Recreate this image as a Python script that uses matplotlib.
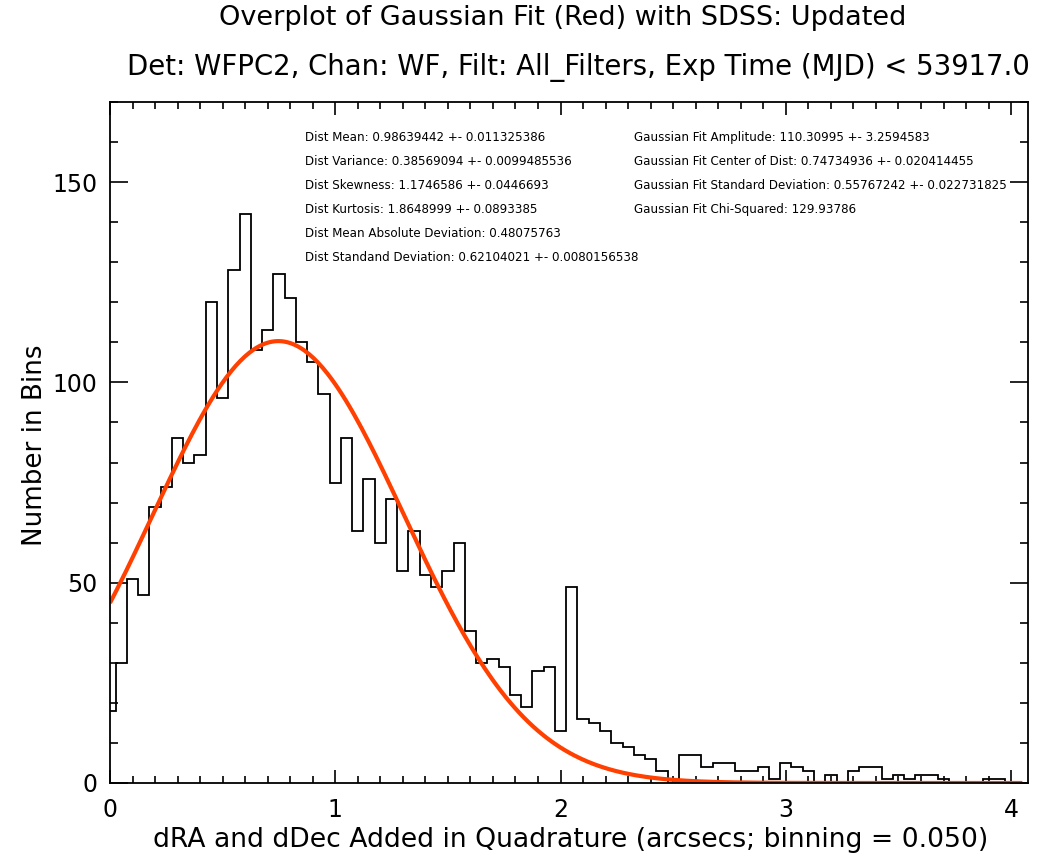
import numpy as np
import matplotlib
matplotlib.use("Agg")
import matplotlib.pyplot as plt
from matplotlib.ticker import MultipleLocator

# histogram of separations, bin centres every 0.05 arcsec starting at 0
bin_width = 0.05
counts = [18, 30, 51, 47, 69, 74, 86, 80, 82, 120,
          96, 128, 142, 108, 113, 127, 121, 110, 105, 97,
          75, 86, 63, 76, 60, 71, 53, 63, 52, 49,
          53, 60, 38, 30, 31, 29, 22, 19, 28, 29,
          13, 49, 16, 15, 13, 10, 9, 7, 6, 3,
          0, 7, 7, 4, 5, 5, 3, 3, 4, 1,
          5, 4, 3, 0, 2, 0, 3, 4, 4, 1,
          2, 1, 2, 2, 1, 0, 0, 0, 1, 1,
          0, 0]

# gaussian fit parameters (as printed on the plot)
fit_amp = 110.30995
fit_center = 0.74734936
fit_sigma = 0.55767242

left_stats = [
    "Dist Mean: 0.98639442 +- 0.011325386",
    "Dist Variance: 0.38569094 +- 0.0099485536",
    "Dist Skewness: 1.1746586 +- 0.0446693",
    "Dist Kurtosis: 1.8648999 +- 0.0893385",
    "Dist Mean Absolute Deviation: 0.48075763",
    "Dist Standand Deviation: 0.62104021 +- 0.0080156538",
]
right_stats = [
    "Gaussian Fit Amplitude: 110.30995 +- 3.2594583",
    "Gaussian Fit Center of Dist: 0.74734936 +- 0.020414455",
    "Gaussian Fit Standard Deviation: 0.55767242 +- 0.022731825",
    "Gaussian Fit Chi-Squared: 129.93786",
]

title = "Overplot of Gaussian Fit (Red) with SDSS: Updated"
subtitle = "Det: WFPC2, Chan: WF, Filt: All_Filters, Exp Time (MJD) < 53917.0"
xlabel = "dRA and dDec Added in Quadrature (arcsecs; binning = 0.050)"
ylabel = "Number in Bins"

plt.rcParams['font.family'] = ['DejaVu Sans']

fig = plt.figure(figsize=(10.37, 8.65), dpi=100)
ax = fig.add_axes([110 / 1037, 82 / 865, 918 / 1037, 681 / 865])

centers = np.arange(len(counts)) * bin_width
edges = np.append(centers - bin_width / 2, centers[-1] + bin_width / 2)
ax.stairs(counts, edges, baseline=None, color='black', lw=1.3)

xfit = np.linspace(0, centers[-1], 400)
yfit = fit_amp * np.exp(-0.5 * ((xfit - fit_center) / fit_sigma) ** 2)
ax.plot(xfit, yfit, color='#ff4000', lw=3, solid_capstyle='butt')

ax.set_xlim(0, edges[-1])
ax.set_ylim(0, 170)

ax.xaxis.set_major_locator(MultipleLocator(1))
ax.xaxis.set_minor_locator(MultipleLocator(0.1))
ax.yaxis.set_major_locator(MultipleLocator(50))
ax.yaxis.set_minor_locator(MultipleLocator(10))
ax.tick_params(which='both', direction='in', top=True, right=True, width=1.2)
ax.tick_params(axis='x', which='major', length=9.5, pad=11, labelsize=17)
ax.tick_params(axis='x', which='minor', length=5)
ax.tick_params(axis='y', which='major', length=13, pad=9, labelsize=17)
ax.tick_params(axis='y', which='minor', length=6)
for sp in ax.spines.values():
    sp.set_linewidth(1.3)

for i, s in enumerate(left_stats):
    ax.text(0.866, 161.2 - 6 * i, s, fontsize=8.6, va='center', ha='left')
for i, s in enumerate(right_stats):
    ax.text(2.326, 161.2 - 6 * i, s, fontsize=8.6, va='center', ha='left')

fig.text(563 / 1037, 1 - 18 / 865, title, ha='center', va='center', fontsize=19.5)
fig.text(578 / 1037, 1 - 68 / 865, subtitle, ha='center', va='center', fontsize=19.8)
fig.text(571 / 1037, 1 - 840 / 865, xlabel, ha='center', va='center', fontsize=19.2)
fig.text(35 / 1037, 1 - 445 / 865, ylabel, ha='center', va='center',
         rotation=90, fontsize=18.8)

fig.savefig("out.png", dpi=100)
